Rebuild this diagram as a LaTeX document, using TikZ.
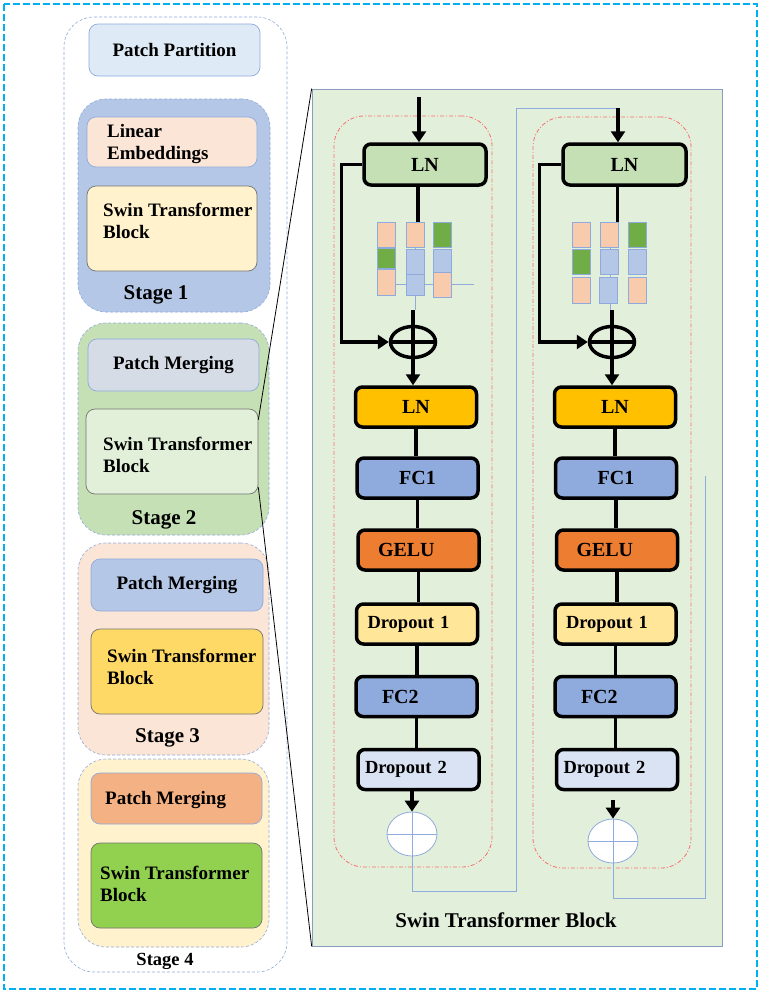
\documentclass[tikz,border=0pt]{standalone}
\usepackage{fontspec}
\setmainfont{Liberation Serif}
\usetikzlibrary{arrows.meta, shapes.geometric}
\definecolor{linkblue}{RGB}{143,170,220}
\definecolor{framecyan}{RGB}{0,176,240}
\definecolor{panelgreen}{RGB}{226,239,218}
\definecolor{dashred}{RGB}{250,110,110}
\definecolor{partblue}{RGB}{222,235,247}
\definecolor{stageblue}{RGB}{180,199,231}
\definecolor{peach}{RGB}{251,229,214}
\definecolor{cream}{RGB}{255,242,204}
\definecolor{stagegreen}{RGB}{197,224,180}
\definecolor{mergegray}{RGB}{214,220,229}
\definecolor{palegreen}{RGB}{226,240,217}
\definecolor{gold}{RGB}{255,217,102}
\definecolor{salmon}{RGB}{244,177,131}
\definecolor{leaf}{RGB}{146,208,80}
\definecolor{lngreen}{RGB}{197,224,180}
\definecolor{lnyellow}{RGB}{255,192,0}
\definecolor{fcblue}{RGB}{143,170,220}
\definecolor{geluorange}{RGB}{237,125,49}
\definecolor{dropyellow}{RGB}{255,230,153}
\definecolor{dropblue}{RGB}{218,227,243}
\definecolor{tokpeach}{RGB}{248,203,173}
\definecolor{tokgreen}{RGB}{112,173,71}
\definecolor{tokblue}{RGB}{180,199,231}

\begin{document}
\begin{tikzpicture}[x=1pt, y=-1pt,
  group/.style={draw=linkblue, dash pattern=on 3pt off 2pt, line width=0.6pt, rounded corners=28pt, inner sep=0},
  part/.style={draw=linkblue, line width=0.7pt, rounded corners=9pt, minimum width=171pt, minimum height=52pt, inner sep=0, font=\fontsize{19}{22}\selectfont\bfseries},
  swin/.style={part, draw=black!55, minimum height=85pt},
  txt/.style={anchor=west, align=left, inner sep=0, font=\fontsize{19}{22}\selectfont\bfseries},
  stagelabel/.style={inner sep=0, font=\fontsize{21}{24}\selectfont\bfseries},
  region/.style={draw=dashred, dash pattern=on 4pt off 2pt on 1pt off 2pt, line width=0.8pt, rounded corners=30pt, minimum width=158pt, minimum height=751pt, inner sep=0},
  layer/.style={draw, line width=3.5pt, rounded corners=7pt, minimum width=121pt, minimum height=40pt, inner sep=0, font=\fontsize{20}{22}\selectfont\bfseries},
  flush/.style 2 args={text width=#1, inner xsep=#2, align=left},
  tok/.style={draw=linkblue, line width=0.6pt, minimum width=18pt, minimum height=25pt, inner sep=0},
  sum/.style={ellipse, draw, line width=3.5pt, minimum width=45pt, minimum height=31pt, inner sep=0},
  merge/.style={ellipse, draw=linkblue, fill=white, line width=0.8pt, minimum width=50pt, minimum height=44pt, inner sep=0},
  arrow/.style={-{Triangle[length=11pt, width=14pt]}, line width=3.5pt},
  bar/.style={line width=3.5pt},
  link/.style={linkblue, line width=0.8pt}
]
  \useasboundingbox (0,0) rectangle (762,994);
  \draw[framecyan, line width=1.6pt, dash pattern=on 7pt off 3pt] (4,4) rectangle (757,989);

  % Backbone
  \node[group, rounded corners=30pt, fill=white, minimum width=223pt, minimum height=955pt] (backbone) at (175.5,494.5) {};
  \node[part, fill=partblue] (partition) at (174.5,50) {Patch Partition};

  % Stage 1
  \node[group, fill=stageblue, minimum width=192pt, minimum height=213pt] (stageone) at (174,205.5) {};
  \node[part, fill=peach, minimum width=170pt, minimum height=50pt] (embed) at (172,142) {};
  \node[txt] (embedtxt) at (107,143.5) {Linear\\Embeddings};
  \node[swin, fill=cream, minimum width=170pt] (swinone) at (172,228.5) {};
  \node[txt] (swinonetxt) at (103,221) {Swin Transformer\\Block};
  \node[stagelabel] (stageonetxt) at (156,295) {Stage 1};

  % Stage 2
  \node[group, fill=stagegreen, minimum width=191pt, minimum height=212pt] (stagetwo) at (173.5,429) {};
  \node[part, fill=mergegray] (mergetwo) at (173.5,365) {Patch Merging};
  \node[swin, fill=palegreen, minimum width=172pt] (swintwo) at (172,451.5) {};
  \node[txt] (swintwotxt) at (103,454.5) {Swin Transformer\\Block};
  \node[stagelabel] (stagetwotxt) at (164,520) {Stage 2};

  % Stage 3
  \node[group, fill=peach, minimum width=191pt, minimum height=212pt] (stagethree) at (173.5,649) {};
  \node[part, fill=stageblue, minimum width=172pt] (mergethree) at (177,585) {Patch Merging};
  \node[swin, fill=gold, minimum width=172pt] (swinthree) at (177,671.5) {};
  \node[txt] (swinthreetxt) at (107,666.5) {Swin Transformer\\Block};
  \node[stagelabel] (stagethreetxt) at (167.5,738) {Stage 3};

  % Stage 4
  \node[group, fill=cream, minimum width=191pt, minimum height=188pt] (stagefour) at (173.5,853) {};
  \node[part, fill=salmon, minimum height=51pt] (mergefour) at (176.5,798.5) {};
  \node[txt] (mergefourtxt) at (105,800) {Patch Merging};
  \node[swin, fill=leaf] (swinfour) at (176.5,885.5) {};
  \node[txt] (swinfourtxt) at (100,884) {Swin Transformer\\Block};
  \node[stagelabel, font=\fontsize{18.5}{22}\selectfont\bfseries] (stagefourtxt) at (165,961) {Stage 4};

  % Zoomed block
  \node[draw=linkblue!70!gray, fill=panelgreen, line width=0.7pt, minimum width=410pt, minimum height=857pt, inner sep=0] (panel) at (517,517.5) {};
  \draw[line width=0.8pt] ([yshift=-11pt]swintwo.north east) -- (panel.north west);
  \draw[line width=0.8pt] ([yshift=7pt]swintwo.south east) -- (panel.south west);
  \node[region] (blockA) at (413,491.5) {};
  \node[region] (blockB) at (612,492.5) {};
  \node[font=\fontsize{21}{24}\selectfont\bfseries] (caption) at (506,920) {Swin Transformer Block};

  % First block
  \coordinate (inA) at (419,97);
  \coordinate (mixA) at (413,310);
  \node[layer, fill=lngreen, minimum width=122pt, minimum height=41pt] (lnA) at (425,164.5) {LN};
  \node[layer, fill=lnyellow] (lnA2) at (416,407) {LN};
  \node[layer, fill=fcblue] (fc1A) at (417.5,478) {FC1};
  \node[layer, fill=geluorange, flush={81pt}{20pt}] (geluA) at (418.5,550) {GELU};
  \node[layer, fill=dropyellow, flush={99pt}{11pt}, font=\fontsize{18.5}{22}\selectfont\bfseries] (drop1A) at (417,624) {Dropout 1};
  \node[layer, fill=fcblue, flush={69pt}{26pt}] (fc2A) at (416.5,696.5) {FC2};
  \node[layer, fill=dropblue, flush={107pt}{7pt}, font=\fontsize{18.5}{22}\selectfont\bfseries] (drop2A) at (418.5,769.5) {Dropout 2};
  \node[sum] (addA) at (413,342) {};
  \node[merge] (sumA) at (412,834) {};

  \draw[link] (415,247) -- (415,310);
  \draw[link] (377.5,284.5) -- ++(96,0);
  \node[tok, fill=tokpeach] (tA11) at (386.5,234.5) {};
  \node[tok, fill=tokgreen, minimum height=20pt] (tA21) at (386.5,258) {};
  \node[tok, fill=tokpeach, minimum height=26pt] (tA31) at (386.5,282) {};
  \node[tok, fill=tokpeach] (tA12) at (415,234.5) {};
  \node[tok, fill=tokblue] (tA22) at (415,261.5) {};
  \node[tok, fill=tokblue, minimum height=21pt] (tA32) at (415,284.5) {};
  \node[tok, fill=tokgreen] (tA13) at (442,234.5) {};
  \node[tok, fill=tokblue, minimum height=23pt] (tA23) at (442,260.5) {};
  \node[tok, fill=tokpeach] (tA33) at (442,284.5) {};

  \draw[arrow] (inA) -- (inA |- lnA.north);
  \draw[bar] ([xshift=-7pt]lnA.south) -- ([xshift=-7pt]lnA.south |- tA12.north);
  \draw[arrow] (lnA.west) -- ++(-21,0) |- (addA.west);
  \draw[arrow] (mixA) -- (mixA |- lnA2.north);
  \draw[bar] (addA.west) -- (addA.east);
  \draw[bar] (lnA2.south) -- (lnA2.south |- fc1A.north);
  \draw[bar] (fc1A.south) -- (fc1A.south |- geluA.north);
  \draw[bar] (geluA.south) -- (geluA.south |- drop1A.north);
  \draw[bar] (drop1A.south) -- (drop1A.south |- fc2A.north);
  \draw[bar] (fc2A.south) -- (fc2A.south |- drop2A.north);
  \draw[arrow] (drop2A.south -| sumA.north) -- (sumA.north);
  \draw[link] (sumA.west) -- (sumA.east);
  \draw[link] (sumA.north) -- (sumA.south);

  % Second block
  \coordinate (inB) at (618,108);
  \coordinate (mixB) at (612,310);
  \coordinate (outB) at (613,800);
  \coordinate (endB) at (705,476);
  \node[layer, fill=lngreen, minimum width=123pt, minimum height=41pt] (lnB) at (624.5,164.5) {LN};
  \node[layer, fill=lnyellow] (lnB2) at (615,407) {LN};
  \node[layer, fill=fcblue] (fc1B) at (616,478) {FC1};
  \node[layer, fill=geluorange, flush={81pt}{20pt}] (geluB) at (617,550) {GELU};
  \node[layer, fill=dropyellow, flush={99pt}{11pt}, font=\fontsize{18.5}{22}\selectfont\bfseries] (drop1B) at (615.5,624) {Dropout 1};
  \node[layer, fill=fcblue, flush={69pt}{26pt}] (fc2B) at (615.5,696.5) {FC2};
  \node[layer, fill=dropblue, flush={107pt}{7pt}, font=\fontsize{18.5}{22}\selectfont\bfseries] (drop2B) at (617,769.5) {Dropout 2};
  \node[sum] (addB) at (612,342) {};
  \node[merge] (sumB) at (613,841) {};

  \draw[link] (610,247) -- (610,310);
  \node[tok, fill=tokpeach] (tB11) at (581,234.5) {};
  \node[tok, fill=tokgreen] (tB21) at (581,261.5) {};
  \node[tok, fill=tokpeach, minimum height=26pt] (tB31) at (581,290.5) {};
  \node[tok, fill=tokpeach] (tB12) at (609.5,234.5) {};
  \node[tok, fill=tokblue] (tB22) at (609.5,262) {};
  \node[tok, fill=tokblue, minimum height=26pt] (tB32) at (608,290.5) {};
  \node[tok, fill=tokgreen] (tB13) at (637,234.5) {};
  \node[tok, fill=tokblue] (tB23) at (637,262) {};
  \node[tok, fill=tokpeach, minimum height=26pt] (tB33) at (637,290.5) {};

  \draw[link] (sumA.south) |- (516,891) |- (inB);
  \draw[arrow] (inB) -- (inB |- lnB.north);
  \draw[bar] ([xshift=-7pt]lnB.south) -- ([xshift=-7pt]lnB.south |- tB12.north);
  \draw[arrow] (lnB.west) -- ++(-22,0) |- (addB.west);
  \draw[arrow] (mixB) -- (mixB |- lnB2.north);
  \draw[bar] (addB.west) -- (addB.east);
  \draw[bar] (lnB2.south) -- (lnB2.south |- fc1B.north);
  \draw[bar] (fc1B.south) -- (fc1B.south |- geluB.north);
  \draw[bar] (geluB.south) -- (geluB.south |- drop1B.north);
  \draw[bar] (drop1B.south) -- (drop1B.south |- fc2B.north);
  \draw[bar] (fc2B.south) -- (fc2B.south |- drop2B.north);
  \draw[arrow] (outB) -- (sumB.north);
  \draw[link] (sumB.west) -- (sumB.east);
  \draw[link] (sumB.north) -- (sumB.south);
  \draw[link] (sumB.south) |- (705,898) -- (endB);
\end{tikzpicture}
\end{document}
